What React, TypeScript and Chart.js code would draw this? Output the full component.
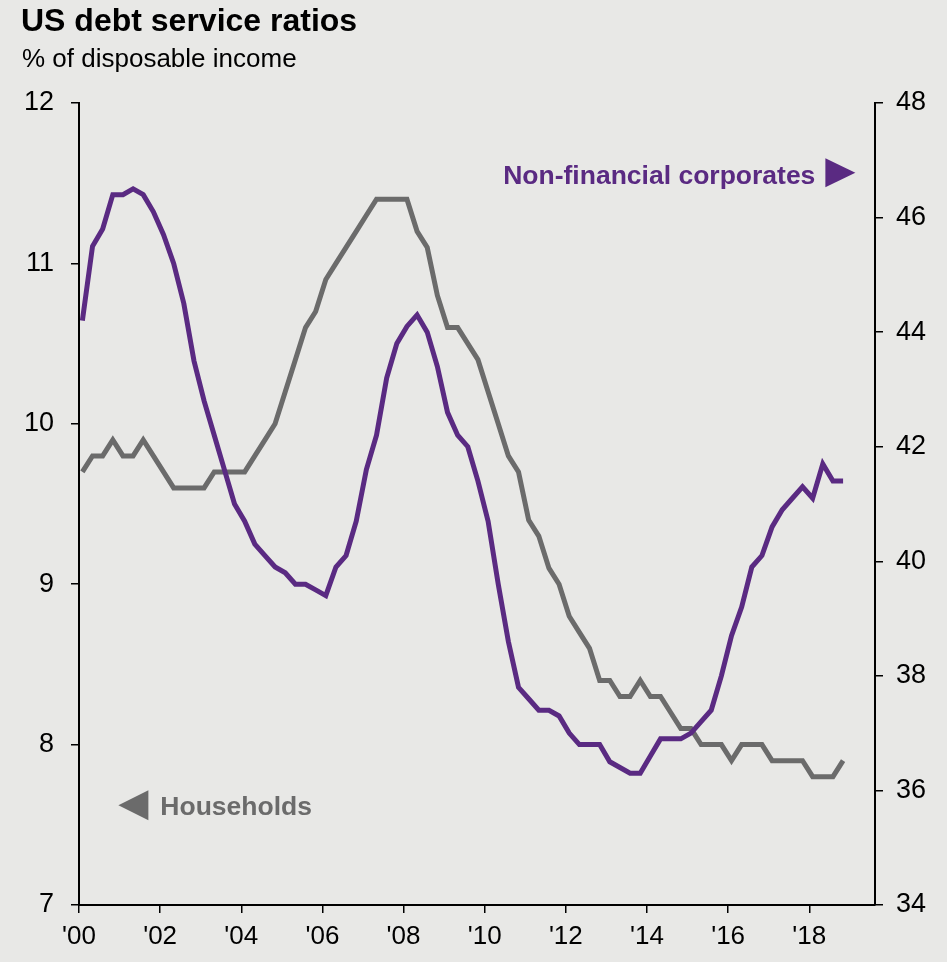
import React, { useEffect, useRef } from 'react';
import { Chart, registerables } from 'chart.js';

Chart.register(...registerables);

// ---- Data ----
const years = [2000, 2001, 2002, 2003, 2004, 2005, 2006, 2007, 2008, 2009, 2010, 2011, 2012, 2013, 2014, 2015, 2016, 2017, 2018];
const quarterNames = ['Q1', 'Q2', 'Q3', 'Q4'];
const quarters: string[] = [];
years.forEach((y) => quarterNames.forEach((q) => quarters.push(`${y} ${q}`)));

// Households, % of disposable income (left axis)
const households = [
  9.7, 9.8, 9.8, 9.9, 9.8, 9.8, 9.9, 9.8, 9.7, 9.6,
  9.6, 9.6, 9.6, 9.7, 9.7, 9.7, 9.7, 9.8, 9.9, 10.0,
  10.2, 10.4, 10.6, 10.7, 10.9, 11.0, 11.1, 11.2, 11.3, 11.4,
  11.4, 11.4, 11.4, 11.2, 11.1, 10.8, 10.6, 10.6, 10.5, 10.4,
  10.2, 10.0, 9.8, 9.7, 9.4, 9.3, 9.1, 9.0, 8.8, 8.7,
  8.6, 8.4, 8.4, 8.3, 8.3, 8.4, 8.3, 8.3, 8.2, 8.1,
  8.1, 8.0, 8.0, 8.0, 7.9, 8.0, 8.0, 8.0, 7.9, 7.9,
  7.9, 7.9, 7.8, 7.8, 7.8, 7.9,
];

// Non-financial corporates (right axis)
const corporates = [
  44.2, 45.5, 45.8, 46.4, 46.4, 46.5, 46.4, 46.1, 45.7, 45.2,
  44.5, 43.5, 42.8, 42.2, 41.6, 41.0, 40.7, 40.3, 40.1, 39.9,
  39.8, 39.6, 39.6, 39.5, 39.4, 39.9, 40.1, 40.7, 41.6, 42.2,
  43.2, 43.8, 44.1, 44.3, 44.0, 43.4, 42.6, 42.2, 42.0, 41.4,
  40.7, 39.6, 38.6, 37.8, 37.6, 37.4, 37.4, 37.3, 37.0, 36.8,
  36.8, 36.8, 36.5, 36.4, 36.3, 36.3, 36.6, 36.9, 36.9, 36.9,
  37.0, 37.2, 37.4, 38.0, 38.7, 39.2, 39.9, 40.1, 40.6, 40.9,
  41.1, 41.3, 41.1, 41.7, 41.4, 41.4,
];

const xTickYears = [2000, 2002, 2004, 2006, 2008, 2010, 2012, 2014, 2016, 2018];

const TITLE = 'US debt service ratios';
const SUBTITLE = '% of disposable income';
const CORP_LABEL = 'Non-financial corporates';
const HH_LABEL = 'Households';

const BG = '#e8e8e6';
const PURPLE = '#5a2a82';
const GREY = '#6b6b6b';
const FONT = "'Liberation Sans', Arial, Helvetica, sans-serif";

// quarter label -> decimal year (plotted one month into the quarter)
function quarterToX(label: string): number {
  const [y, q] = label.split(' ');
  return Number(y) + (Number(q.slice(1)) - 1) / 4 + 1 / 12;
}

const decorPlugin = {
  id: 'decor',
  beforeDraw(chart: any) {
    const ctx = chart.ctx;
    ctx.save();
    ctx.fillStyle = BG;
    ctx.fillRect(0, 0, chart.width, chart.height);
    ctx.restore();
  },
  afterDraw(chart: any) {
    const ctx = chart.ctx;
    const xs = chart.scales.x;
    const yl = chart.scales.y;
    const yr = chart.scales.y1;
    ctx.save();
    ctx.textBaseline = 'alphabetic';
    ctx.textAlign = 'left';
    ctx.fillStyle = '#000';
    ctx.font = `bold 32px ${FONT}`;
    ctx.fillText(TITLE, 21, 31);
    ctx.font = `26px ${FONT}`;
    ctx.fillText(SUBTITLE, 22, 67);

    // Non-financial corporates label with right-pointing arrow
    const cx = xs.getPixelForValue(2018.15);
    const cy = yr.getPixelForValue(46.58);
    ctx.fillStyle = PURPLE;
    ctx.font = `bold 26.5px ${FONT}`;
    ctx.textAlign = 'right';
    ctx.fillText(CORP_LABEL, cx, cy);
    const ax = cx + 10;
    const amid = cy - 11.5;
    ctx.beginPath();
    ctx.moveTo(ax, amid - 14.5);
    ctx.lineTo(ax, amid + 14.5);
    ctx.lineTo(ax + 30, amid);
    ctx.closePath();
    ctx.fill();

    // Households label with left-pointing arrow
    const hx = xs.getPixelForValue(2000.97);
    const hy = yl.getPixelForValue(7.56);
    ctx.fillStyle = GREY;
    ctx.textAlign = 'left';
    ctx.fillText(HH_LABEL, hx + 42, hy);
    const hmid = hy - 10;
    ctx.beginPath();
    ctx.moveTo(hx, hmid);
    ctx.lineTo(hx + 30, hmid - 15);
    ctx.lineTo(hx + 30, hmid + 15);
    ctx.closePath();
    ctx.fill();
    ctx.restore();
  },
};

export default function App() {
  const canvasRef = useRef<HTMLCanvasElement | null>(null);

  useEffect(() => {
    document.body.style.margin = '0';
    document.body.style.background = BG;
    const canvas = canvasRef.current;
    if (!canvas) return;
    const tickFont = { family: FONT, size: 27 };
    const gridCfg = { drawOnChartArea: false, drawTicks: true, tickLength: 8, color: '#000', lineWidth: 1.5 };
    const borderCfg = { display: true, color: '#000', width: 2 };

    const chart = new Chart(canvas, {
      type: 'line',
      data: {
        datasets: [
          {
            label: CORP_LABEL,
            data: quarters.map((q, i) => ({ x: quarterToX(q), y: corporates[i] })),
            yAxisID: 'y1',
            borderColor: PURPLE,
            borderWidth: 5,
            pointRadius: 0,
            tension: 0,
            fill: false,
            order: 0,
          },
          {
            label: HH_LABEL,
            data: quarters.map((q, i) => ({ x: quarterToX(q), y: households[i] })),
            yAxisID: 'y',
            borderColor: GREY,
            borderWidth: 5,
            pointRadius: 0,
            tension: 0,
            fill: false,
            order: 1,
          },
        ],
      },
      options: {
        responsive: false,
        animation: false,
        devicePixelRatio: 1,
        layout: { padding: { top: 103, left: 0, right: 0, bottom: 0 } },
        plugins: {
          legend: { display: false },
          tooltip: { enabled: false },
          title: { display: false },
        },
        scales: {
          x: {
            type: 'linear',
            position: 'bottom',
            min: 2000,
            max: 2019.62,
            afterBuildTicks: (s: any) => {
              s.ticks = xTickYears.map((v) => ({ value: v }));
            },
            afterFit: (s: any) => {
              s.height = 57;
            },
            ticks: {
              callback: (v: any) => "'" + String(Number(v) % 100).padStart(2, '0'),
              font: { family: FONT, size: 26 },
              color: '#000',
              padding: 8,
              maxRotation: 0,
              autoSkip: false,
            },
            grid: gridCfg,
            border: borderCfg,
          },
          y: {
            type: 'linear',
            position: 'left',
            min: 7,
            max: 12,
            afterFit: (s: any) => {
              s.width = 79;
            },
            ticks: { stepSize: 1, font: tickFont, color: '#000', padding: 17 },
            grid: gridCfg,
            border: borderCfg,
          },
          y1: {
            type: 'linear',
            position: 'right',
            min: 34,
            max: 48,
            afterFit: (s: any) => {
              s.width = 72;
            },
            ticks: { stepSize: 2, font: tickFont, color: '#000', padding: 13 },
            grid: gridCfg,
            border: borderCfg,
          },
        },
      },
      plugins: [decorPlugin],
    } as any);

    return () => {
      chart.destroy();
    };
  }, []);

  return (
    <div style={{ width: 947, height: 962, background: BG }}>
      <canvas ref={canvasRef} width={947} height={962} style={{ display: 'block' }} />
    </div>
  );
}
